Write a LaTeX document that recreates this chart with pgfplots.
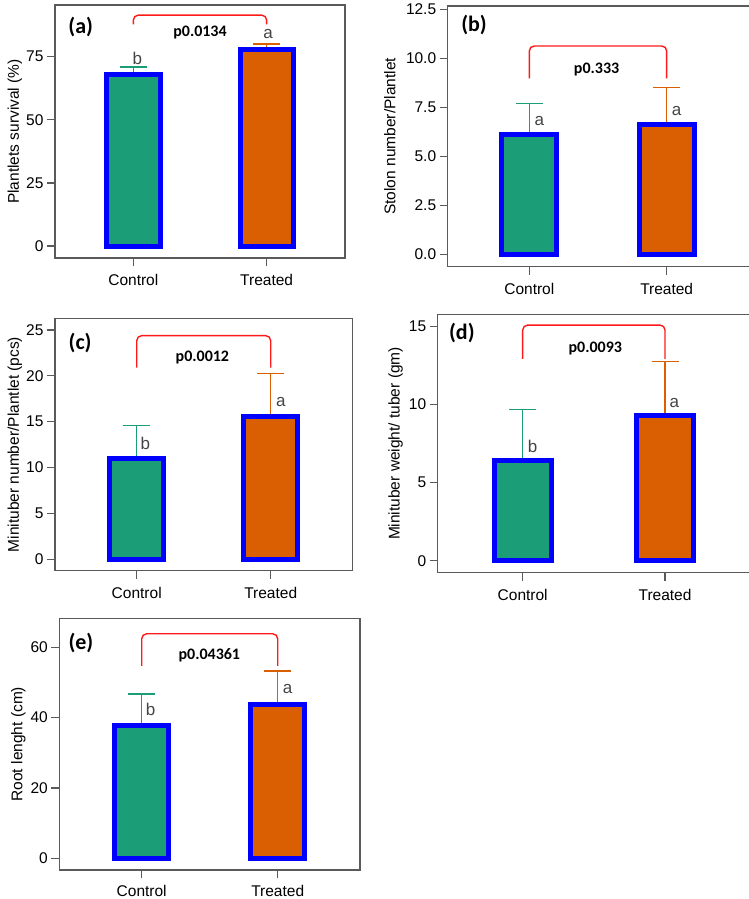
\documentclass[border=0pt]{standalone}
\usepackage{fontspec}
\setmainfont{Liberation Sans}
\newfontfamily\calib{Carlito}
\usepackage{pgfplots}
\pgfplotsset{compat=1.18}
\definecolor{cgreen}{HTML}{1B9E77}
\definecolor{corange}{HTML}{D95F02}
\definecolor{axgray}{HTML}{5A5A5A}
\definecolor{lettergray}{HTML}{444444}
\definecolor{bracketred}{HTML}{FF1A1A}
\pgfplotsset{
 panel/.style={scale only axis, anchor=north west, clip=false,
  axis line style={draw=axgray, line width=1.2pt},
  every tick/.style={draw=axgray, line width=1.2pt},
  tick align=outside, major tick length=8pt,
  xtick={0,1}, xticklabels={Control,Treated},
  xtick pos=bottom, ytick pos=left,
  /pgf/number format/assume math mode=true,
  yticklabel style={font=\fontsize{15.5}{18}\selectfont},
  xticklabel style={font=\fontsize{15.5}{18}\selectfont, yshift=-5pt},
  ylabel style={font=\fontsize{15.5}{18}\selectfont, anchor=center},
 },
 ctrlbar/.style={ybar, bar shift=0pt, bar width=0.4, fill=cgreen, draw=blue, line width=5pt},
 trtbar/.style={ybar, bar shift=0pt, bar width=0.4, fill=corange, draw=blue, line width=5pt},
 ctrlerr/.style={cgreen, line width=1.5pt, mark=none, error bars/.cd, y dir=plus, y explicit,
   error bar style={draw=cgreen, line width=1.5pt},
   error mark options={draw=cgreen, line width=1.5pt, mark size=13.5pt, rotate=90}},
 trterr/.style={corange, line width=1.5pt, mark=none, error bars/.cd, y dir=plus, y explicit,
   error bar style={draw=corange, line width=1.5pt},
   error mark options={draw=corange, line width=1.5pt, mark size=13.5pt, rotate=90}},
}
\tikzset{
 sig/.style={anchor=base, lettergray, font=\fontsize{17}{20}\selectfont},
 pval/.style={font=\calib\bfseries\fontsize{16}{19}\selectfont},
 plab/.style={anchor=west, font=\calib\bfseries\fontsize{22}{26}\selectfont},
 brk/.style={bracketred, line width=1.4pt, rounded corners=5pt},
}
\begin{document}
\begin{tikzpicture}
\useasboundingbox (0,0) rectangle (749pt,-899pt);
% (a)
\begin{axis}[panel, at={(55pt,-5pt)}, width=290pt, height=253pt,
  xmin=-0.5875, xmax=1.5875, ymin=-4.75, ymax=95.5, ytick={0,25,50,75},
  ylabel={Plantlets survival (\%)}, ylabel style={at={(axis description cs:-0.138,0.5)}}]
\addplot[ctrlerr] coordinates {(0,68) +- (0,3)};
\addplot[trterr] coordinates {(1,78) +- (0,2)};
\addplot[ctrlbar] coordinates {(0,68)};
\addplot[trtbar] coordinates {(1,78)};
\draw[brk] (axis cs:0,87.8) |- (axis cs:0.5,91.5) -| (axis cs:1,87.8);
\node[pval] at (axis cs:0.5,84.7) {p0.0134};
\node[sig] at (axis cs:0.03,72.1) {b};
\node[sig] at (axis cs:1.01,82.3) {a};
\node[plab] at (rel axis cs:0.034,0.912) {(a)};
\end{axis}
% (b)
\begin{axis}[panel, at={(447.7pt,-6pt)}, width=304.3pt, height=260.7pt,
  xmin=-0.594, xmax=1.621, ymin=-0.63, ymax=12.67, ytick={0,2.5,5,7.5,10,12.5},
  yticklabel style={/pgf/number format/.cd, fixed, fixed zerofill, precision=1},
  ylabel={Stolon number/Plantlet}, ylabel style={at={(axis description cs:-0.19,0.5)}}]
\addplot[ctrlerr] coordinates {(0,6.1) +- (0,1.6)};
\addplot[trterr] coordinates {(1,6.65) +- (0,1.85)};
\addplot[ctrlbar] coordinates {(0,6.1)};
\addplot[trtbar] coordinates {(1,6.65)};
\draw[brk] (axis cs:0,8.98) |- (axis cs:0.5,10.63) -| (axis cs:1,8.98);
\node[pval] at (axis cs:0.49,9.45) {p0.333};
\node[sig] at (axis cs:0.073,6.55) {a};
\node[sig] at (axis cs:1.073,7.07) {a};
\node[plab] at (rel axis cs:0.033,0.927) {(b)};
\end{axis}
% (c)
\begin{axis}[panel, at={(55pt,-318.3pt)}, width=297.3pt, height=252.4pt,
  xmin=-0.61, xmax=1.609, ymin=-1.24, ymax=26.27, ytick={0,5,10,15,20,25},
  ylabel={Minituber number/Plantlet (pcs)}, ylabel style={at={(axis description cs:-0.135,0.5)}}]
\addplot[ctrlerr] coordinates {(0,11.0) +- (0,3.57)};
\addplot[trterr] coordinates {(1,15.6) +- (0,4.68)};
\addplot[ctrlbar] coordinates {(0,11.0)};
\addplot[trtbar] coordinates {(1,15.6)};
\draw[brk] (axis cs:0,20.9) |- (axis cs:0.5,24.38) -| (axis cs:1,20.9);
\node[pval] at (axis cs:0.49,22.0) {p0.0012};
\node[sig] at (axis cs:0.064,12.02) {b};
\node[sig] at (axis cs:1.075,16.64) {a};
\node[plab] at (rel axis cs:0.034,0.901) {(c)};
\end{axis}
% (d)
\begin{axis}[panel, at={(437.7pt,-314.3pt)}, width=314.3pt, height=258.4pt,
  xmin=-0.597, xmax=1.611, ymin=-0.77, ymax=15.79, ytick={0,5,10,15},
  ylabel={Minituber weight/ tuber (gm)}, ylabel style={at={(axis description cs:-0.134,0.5)}}]
\addplot[ctrlerr] coordinates {(0,6.4) +- (0,3.3)};
\addplot[trterr] coordinates {(1,9.3) +- (0,3.46)};
\addplot[ctrlbar] coordinates {(0,6.4)};
\addplot[trtbar] coordinates {(1,9.3)};
\draw[brk] (axis cs:0,12.93) |- (axis cs:0.5,15.1) -| (axis cs:1,12.93);
\node[pval] at (axis cs:0.51,13.6) {p0.0093};
\node[sig] at (axis cs:0.069,6.92) {b};
\node[sig] at (axis cs:1.065,9.83) {a};
\node[plab] at (rel axis cs:0.025,0.926) {(d)};
\end{axis}
% (e)
\begin{axis}[panel, at={(59.3pt,-618.3pt)}, width=300.7pt, height=251.7pt,
  xmin=-0.606, xmax=1.605, ymin=-3.32, ymax=68.2, ytick={0,20,40,60},
  xticklabel style={yshift=1.5pt},
  ylabel={Root lenght (cm)}, ylabel style={at={(axis description cs:-0.136,0.5)}}]
\addplot[ctrlerr] coordinates {(0,37.8) +- (0,8.9)};
\addplot[trterr] coordinates {(1,43.8) +- (0,9.4)};
\addplot[ctrlbar] coordinates {(0,37.8)};
\addplot[trtbar] coordinates {(1,43.8)};
\draw[brk] (axis cs:0,54.7) |- (axis cs:0.5,63.8) -| (axis cs:1,54.7);
\node[pval] at (axis cs:0.497,57.6) {p0.04361};
\node[sig] at (axis cs:0.066,40.5) {b};
\node[sig] at (axis cs:1.072,46.7) {a};
\node[plab] at (rel axis cs:0.019,0.90) {(e)};
\end{axis}
\end{tikzpicture}
\end{document}
